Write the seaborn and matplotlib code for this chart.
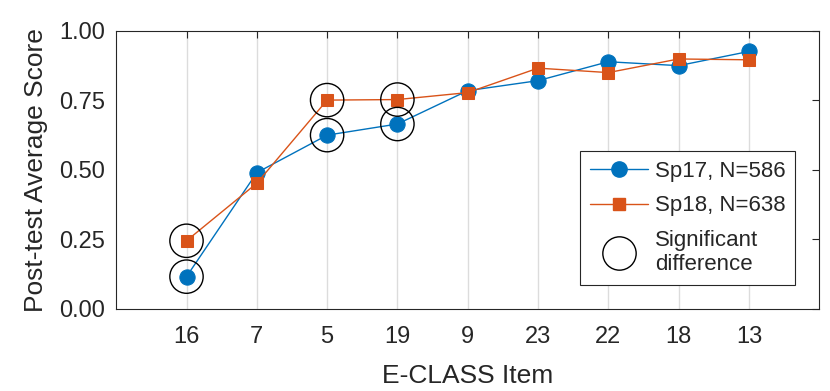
import numpy as np
import pandas as pd
import matplotlib
matplotlib.use("Agg")
import matplotlib.pyplot as plt
import seaborn as sns
from matplotlib.lines import Line2D

# data
items = ["16", "7", "5", "19", "9", "23", "22", "18", "13"]
sp17 = [0.116, 0.490, 0.625, 0.665, 0.785, 0.821, 0.889, 0.875, 0.926]
sp18 = [0.245, 0.452, 0.751, 0.753, 0.778, 0.866, 0.850, 0.899, 0.896]
significant = ["16", "5", "19"]

sns.set_style("white")
plt.rcParams["font.family"] = ["Liberation Sans", "DejaVu Sans"]

blue = "#0072BD"
orange = "#D95319"

pos = np.arange(1, len(items) + 1)
df17 = pd.DataFrame({"pos": pos, "score": sp17, "item": items})
df18 = pd.DataFrame({"pos": pos, "score": sp18, "item": items})

fig = plt.figure(figsize=(8.3, 3.91), dpi=100)
ax = fig.add_axes([0.14, 0.21, 0.847, 0.711])

sns.lineplot(data=df17, x="pos", y="score", color=blue, marker="o",
             markersize=11, markeredgecolor=blue, linewidth=1, ax=ax, zorder=3)
sns.lineplot(data=df18, x="pos", y="score", color=orange, marker="s",
             markersize=8, markeredgecolor=orange, linewidth=1, ax=ax, zorder=3)

# circles for significant differences
sig = pd.concat([df17[df17["item"].isin(significant)],
                 df18[df18["item"].isin(significant)]])
sns.scatterplot(data=sig, x="pos", y="score", s=24 ** 2, facecolors="none",
                edgecolor="black", linewidth=1, ax=ax, zorder=4)

ax.set_xlim(0, 10)
ax.set_ylim(0, 1)
ax.set_xticks(pos)
ax.set_xticklabels(items)
ax.set_yticks([0, 0.25, 0.5, 0.75, 1.0])
ax.set_yticklabels(["0.00", "0.25", "0.50", "0.75", "1.00"])
ax.xaxis.grid(True, color="#dcdcdc", linewidth=1)
ax.yaxis.grid(False)
ax.set_axisbelow(True)

for s in ax.spines.values():
    s.set_color("#262626")
    s.set_linewidth(0.8)
ax.tick_params(direction="in", length=5, width=0.8, color="#262626",
               top=True, right=True, labelsize=17, labelcolor="#262626")
ax.tick_params(axis="x", pad=12)
ax.tick_params(axis="y", pad=8)

ax.set_xlabel("E-CLASS Item", fontsize=19, color="#262626", labelpad=12)
ax.set_ylabel("Post-test Average Score", fontsize=19, color="#262626",
              labelpad=8)

handles = [
    Line2D([], [], color=blue, marker="o", markersize=11, linewidth=1),
    Line2D([], [], color=orange, marker="s", markersize=8, linewidth=1),
    Line2D([], [], color="black", marker="o", markersize=24, linestyle="none",
           markerfacecolor="none", markeredgewidth=1),
]
leg = ax.legend(handles, ["Sp17, N=586", "Sp18, N=638", "Significant\ndifference"],
                loc="lower right", bbox_to_anchor=(0.966, 0.086), fontsize=16,
                fancybox=False, edgecolor="#262626", framealpha=1,
                handlelength=2.6, borderpad=0.45, labelspacing=0.6,
                handletextpad=0.3, borderaxespad=0)
leg.get_frame().set_linewidth(0.8)

fig.savefig("out.png", dpi=100)
